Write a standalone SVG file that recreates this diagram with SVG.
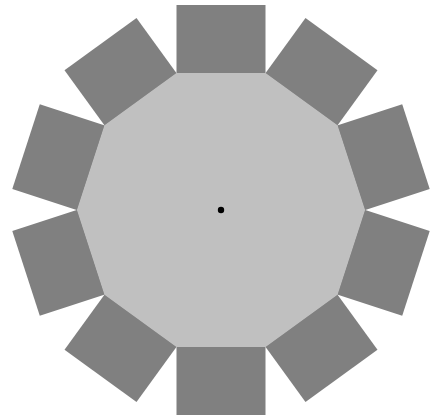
<svg xmlns="http://www.w3.org/2000/svg" width="434" height="416" viewBox="0 0 434 416">
  <style>
    .tab { fill: #808080; stroke: none; }
    .body { fill: #c0c0c0; stroke: none; }
  </style>
  <defs>
    <rect id="tabShape" class="tab" x="176.5" y="5" width="89" height="68.5"/>
  </defs>
  <rect width="434" height="416" fill="#ffffff"/>
  <g id="tabs">
    <use href="#tabShape" transform="rotate(0 221 210)"/>
    <use href="#tabShape" transform="rotate(36 221 210)"/>
    <use href="#tabShape" transform="rotate(72 221 210)"/>
    <use href="#tabShape" transform="rotate(108 221 210)"/>
    <use href="#tabShape" transform="rotate(144 221 210)"/>
    <use href="#tabShape" transform="rotate(180 221 210)"/>
    <use href="#tabShape" transform="rotate(216 221 210)"/>
    <use href="#tabShape" transform="rotate(252 221 210)"/>
    <use href="#tabShape" transform="rotate(288 221 210)"/>
    <use href="#tabShape" transform="rotate(324 221 210)"/>
  </g>
  <g id="decagon">
    <polygon class="body" points="365,210 337.5,125.36 265.5,73.05 176.5,73.05 104.5,125.36 77,210 104.5,294.64 176.5,346.95 265.5,346.95 337.5,294.64"/>
  </g>
  <g id="center">
    <circle cx="221" cy="210" r="3.2" fill="#000000"/>
  </g>
</svg>
